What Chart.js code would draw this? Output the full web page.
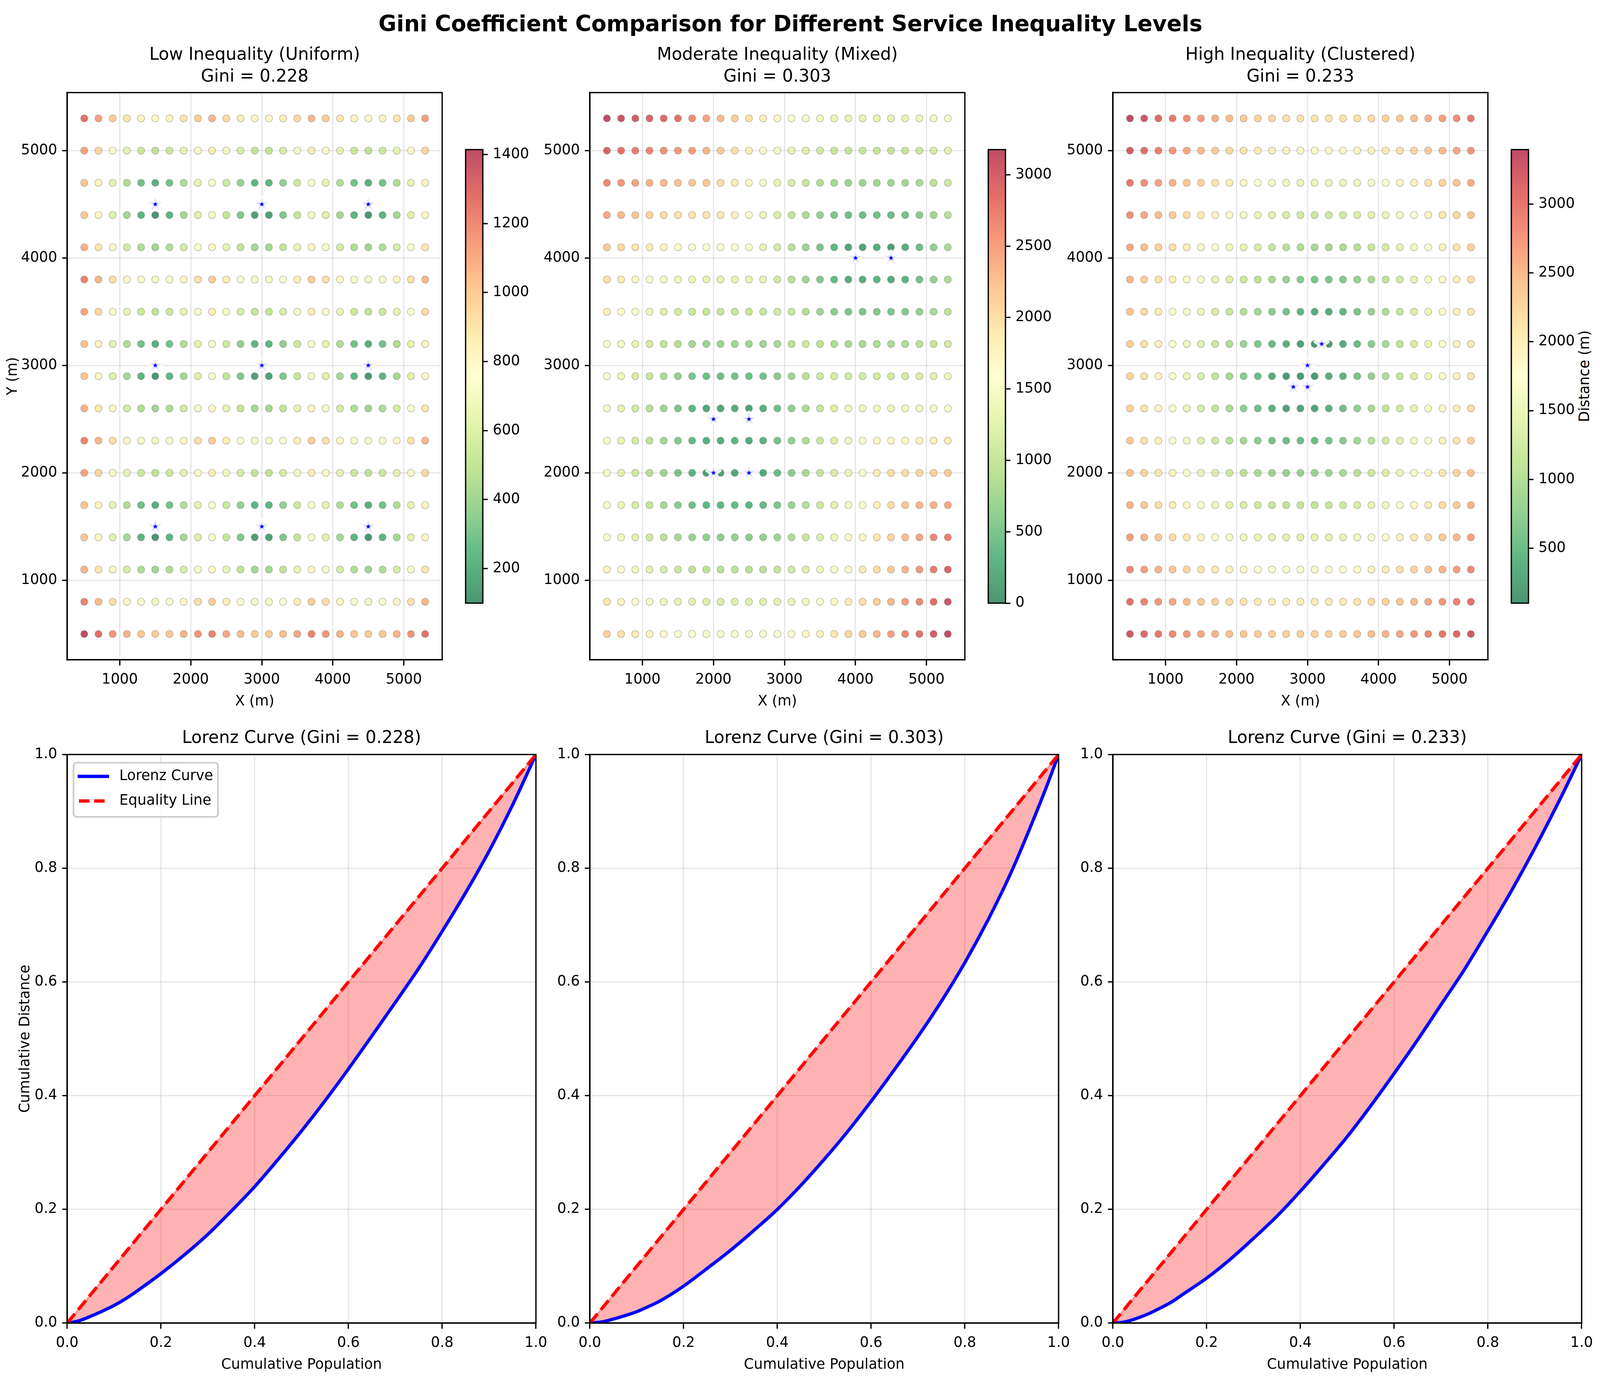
<!DOCTYPE html>
<html>
<head>
<meta charset="utf-8">
<script src="https://cdn.jsdelivr.net/npm/chart.js@4"></script>
<style>
html, body { margin: 0; padding: 0; background: #fff; overflow: hidden; }
#page { position: relative; width: 100vw; height: 100vh; overflow: hidden; background: #fff; font-family: "DejaVu Sans", sans-serif; color: #000; }
canvas { position: absolute; }
#suptitle { position: absolute; left: 0; top: 21px; text-align: center; font-weight: bold; line-height: 80px; white-space: nowrap; }
#cbarlabel { position: absolute; top: 963px; line-height: 50px; white-space: nowrap; transform: translate(-50%, -50%) rotate(-90deg); }
</style>
</head>
<body>
<div id="page">
<div id="suptitle">Gini Coefficient Comparison for Different Service Inequality Levels</div>
<div id="cbarlabel">Distance (m)</div>
</div>
<script>
// grid of population points
const xCols = [500,700,900,1100,1300,1500,1700,1900,2100,2300,2500,2700,2900,3100,3300,3500,3700,3900,4100,4300,4500,4700,4900,5100,5300];
const yRows = [500,800,1100,1400,1700,2000,2300,2600,2900,3200,3500,3800,4100,4400,4700,5000,5300];

// distance to nearest service, one line per row of yRows
const lowDistance = [
[1414,1281,1166,1077,1020,1000,1020,1077,1166,1221,1118,1044,1005,1005,1044,1118,1221,1166,1077,1020,1000,1020,1077,1166,1281],
[1221,1063,922,806,728,700,728,806,922,990,860,762,707,707,762,860,990,922,806,728,700,728,806,922,1063],
[1077,894,721,566,447,400,447,566,721,806,640,500,412,412,500,640,806,721,566,447,400,447,566,721,894],
[1005,806,608,412,224,100,224,412,608,707,510,316,141,141,316,510,707,608,412,224,100,224,412,608,806],
[1020,825,632,447,283,200,283,447,632,728,539,361,224,224,361,539,728,632,447,283,200,283,447,632,825],
[1118,943,781,640,539,500,539,640,781,860,707,583,510,510,583,707,860,781,640,539,500,539,640,781,943],
[1221,1063,922,806,728,700,728,806,922,990,860,762,707,707,762,860,990,922,806,728,700,728,806,922,1063],
[1077,894,721,566,447,400,447,566,721,806,640,500,412,412,500,640,806,721,566,447,400,447,566,721,894],
[1005,806,608,412,224,100,224,412,608,707,510,316,141,141,316,510,707,608,412,224,100,224,412,608,806],
[1020,825,632,447,283,200,283,447,632,728,539,361,224,224,361,539,728,632,447,283,200,283,447,632,825],
[1118,943,781,640,539,500,539,640,781,860,707,583,510,510,583,707,860,781,640,539,500,539,640,781,943],
[1221,1063,922,806,728,700,728,806,922,990,860,762,707,707,762,860,990,922,806,728,700,728,806,922,1063],
[1077,894,721,566,447,400,447,566,721,806,640,500,412,412,500,640,806,721,566,447,400,447,566,721,894],
[1005,806,608,412,224,100,224,412,608,707,510,316,141,141,316,510,707,608,412,224,100,224,412,608,806],
[1020,825,632,447,283,200,283,447,632,728,539,361,224,224,361,539,728,632,447,283,200,283,447,632,825],
[1118,943,781,640,539,500,539,640,781,860,707,583,510,510,583,707,860,781,640,539,500,539,640,781,943],
[1281,1131,1000,894,825,800,825,894,1000,1063,943,854,806,806,854,943,1063,1000,894,825,800,825,894,1000,1131]
];
const midDistance = [
[2121,1985,1860,1749,1655,1581,1530,1503,1503,1513,1500,1513,1552,1616,1700,1803,1921,2052,2193,2343,2500,2663,2830,3002,3176],
[1921,1769,1628,1500,1389,1300,1237,1204,1204,1217,1200,1217,1265,1342,1442,1562,1697,1844,2000,2163,2332,2506,2683,2864,3046],
[1749,1581,1421,1273,1140,1030,949,906,906,922,900,922,985,1082,1204,1345,1500,1664,1836,2012,2193,2377,2563,2751,2941],
[1616,1432,1253,1082,922,781,671,608,608,632,600,632,721,849,1000,1166,1342,1523,1709,1897,2088,2280,2474,2668,2720],
[1530,1334,1140,949,762,583,424,316,316,361,300,361,500,671,854,1044,1237,1432,1628,1825,2022,2220,2335,2377,2435],
[1500,1300,1100,900,700,500,300,100,100,200,0,200,400,600,800,1000,1200,1400,1600,1800,2000,2010,2040,2088,2154],
[1513,1315,1118,922,728,539,361,224,224,283,200,283,447,632,825,1020,1217,1414,1612,1712,1700,1712,1746,1803,1879],
[1503,1304,1105,906,707,510,316,141,141,224,100,224,412,608,806,1005,1204,1404,1404,1414,1400,1414,1456,1523,1612],
[1552,1360,1170,985,806,640,500,412,412,447,400,447,566,721,894,1077,1140,1105,1105,1118,1100,1118,1170,1253,1360],
[1655,1476,1304,1140,990,860,762,707,707,728,700,728,806,922,1063,943,854,806,806,825,800,825,894,1000,1131],
[1803,1640,1487,1345,1221,1118,1044,1005,1005,1020,1000,1020,1077,1030,860,707,583,510,510,539,500,539,640,781,943],
[1985,1838,1703,1581,1476,1393,1334,1304,1304,1315,1300,1315,1118,922,728,539,361,224,224,283,200,283,447,632,825],
[2193,2062,1942,1836,1746,1676,1628,1603,1603,1612,1503,1304,1105,906,707,510,316,141,141,224,100,224,412,608,806],
[2421,2302,2195,2102,2025,1965,1924,1903,1903,1746,1552,1360,1170,985,806,640,500,412,412,447,400,447,566,721,894],
[2663,2555,2460,2377,2309,2256,2220,2202,2025,1838,1655,1476,1304,1140,990,860,762,707,707,728,700,728,806,922,1063],
[2915,2818,2731,2657,2596,2550,2508,2326,2147,1972,1803,1640,1487,1345,1221,1118,1044,1005,1005,1020,1000,1020,1077,1166,1281],
[3176,3087,3008,2941,2886,2818,2642,2470,2302,2140,1985,1838,1703,1581,1476,1393,1334,1304,1304,1315,1300,1315,1360,1432,1526]
];
const highDistance = [
[3253,3114,2983,2860,2746,2642,2550,2470,2404,2354,2319,2302,2302,2302,2319,2354,2404,2470,2550,2642,2746,2860,2983,3114,3253],
[3048,2900,2759,2625,2500,2385,2283,2193,2119,2062,2022,2002,2002,2002,2022,2062,2119,2193,2283,2385,2500,2625,2759,2900,3048],
[2860,2702,2550,2404,2267,2140,2025,1924,1838,1772,1726,1703,1703,1703,1726,1772,1838,1924,2025,2140,2267,2404,2550,2702,2860],
[2693,2524,2360,2202,2052,1910,1780,1664,1565,1487,1432,1404,1404,1404,1432,1487,1565,1664,1780,1910,2052,2202,2360,2524,2693],
[2550,2371,2195,2025,1860,1703,1556,1421,1304,1208,1140,1105,1105,1105,1140,1208,1304,1421,1556,1703,1860,2025,2195,2371,2550],
[2435,2247,2062,1879,1700,1526,1360,1204,1063,943,854,806,806,806,854,943,1063,1204,1360,1526,1700,1879,2062,2247,2419],
[2354,2159,1965,1772,1581,1393,1208,1030,860,707,583,510,510,510,583,707,860,1030,1208,1393,1581,1749,1924,2102,2285],
[2309,2110,1910,1712,1513,1315,1118,922,728,539,361,224,224,224,361,539,728,922,1082,1253,1432,1616,1803,1992,2184],
[2302,2102,1903,1703,1503,1304,1105,906,707,510,316,141,141,141,316,424,583,762,949,1140,1334,1530,1726,1924,2121],
[2335,2138,1942,1746,1552,1360,1170,985,806,640,500,361,224,100,100,300,500,700,900,1100,1300,1500,1700,1900,2100],
[2404,2214,2025,1838,1655,1476,1304,1140,990,860,707,583,424,316,316,424,583,762,949,1140,1334,1530,1726,1924,2121],
[2508,2326,2147,1972,1803,1640,1487,1345,1204,1063,922,781,671,608,608,671,781,922,1082,1253,1432,1616,1803,1992,2184],
[2642,2470,2302,2140,1985,1838,1703,1556,1421,1273,1140,1030,949,906,906,949,1030,1140,1273,1421,1581,1749,1924,2102,2285],
[2802,2640,2484,2335,2193,2052,1910,1769,1628,1500,1389,1300,1237,1204,1204,1237,1300,1389,1500,1628,1769,1921,2081,2247,2419],
[2983,2832,2687,2550,2404,2267,2121,1985,1860,1749,1655,1581,1530,1503,1503,1530,1581,1655,1749,1860,1985,2121,2267,2421,2581],
[3183,3041,2900,2759,2617,2476,2343,2220,2110,2012,1931,1868,1825,1803,1803,1825,1868,1931,2012,2110,2220,2343,2476,2617,2766],
[3397,3253,3114,2970,2832,2702,2581,2470,2371,2285,2214,2159,2121,2102,2102,2121,2159,2214,2285,2371,2470,2581,2702,2832,2970]
];

// service locations
const lowServiceX = [1500,3000,4500,1500,3000,4500,1500,3000,4500];
const lowServiceY = [1500,1500,1500,3000,3000,3000,4500,4500,4500];
const midServiceX = [2000,2500,2000,2500,4000,4500];
const midServiceY = [2000,2000,2500,2500,4000,4000];
const highServiceX = [3000,3200,2800,3000];
const highServiceY = [3000,3200,2800,2800];

// lorenz curves, all read at the same population shares
const popShare = [0,0.025,0.05,0.075,0.1,0.125,0.15,0.2,0.25,0.3,0.35,0.4,0.45,0.5,0.55,0.6,0.65,0.7,0.75,0.8,0.85,0.9,0.95,0.975,1];
const equalityShare = [0,0.025,0.05,0.075,0.1,0.125,0.15,0.2,0.25,0.3,0.35,0.4,0.45,0.5,0.55,0.6,0.65,0.7,0.75,0.8,0.85,0.9,0.95,0.975,1];
const lowLorenz = [0,0.004,0.012,0.021,0.031,0.043,0.057,0.087,0.120,0.156,0.197,0.240,0.288,0.338,0.391,0.447,0.505,0.564,0.624,0.689,0.757,0.830,0.911,0.955,1];
const midLorenz = [0,0.002,0.007,0.013,0.020,0.029,0.039,0.065,0.096,0.128,0.163,0.200,0.242,0.288,0.337,0.390,0.446,0.504,0.566,0.634,0.710,0.795,0.893,0.945,1];
const highLorenz = [0,0.002,0.008,0.016,0.026,0.037,0.051,0.079,0.112,0.149,0.188,0.232,0.279,0.328,0.382,0.439,0.498,0.560,0.622,0.690,0.760,0.835,0.915,0.957,1];

// tick labels and text
const mapTicks = [1000,2000,3000,4000,5000];
const shareTicks = [0,0.2,0.4,0.6,0.8,1];
const lowBarTicks = [200,400,600,800,1000,1200,1400];
const midBarTicks = [0,500,1000,1500,2000,2500,3000];
const highBarTicks = [500,1000,1500,2000,2500,3000];
const mapTitles = [['Low Inequality (Uniform)','Gini = 0.228'],['Moderate Inequality (Mixed)','Gini = 0.303'],['High Inequality (Clustered)','Gini = 0.233']];
const lorenzTitles = ['Lorenz Curve (Gini = 0.228)','Lorenz Curve (Gini = 0.303)','Lorenz Curve (Gini = 0.233)'];
const legendLabels = ['Lorenz Curve','Equality Line'];

// RdYlGn reversed, low distance = green
const cmapStops = [[0,104,55],[26,152,80],[102,189,99],[166,217,106],[217,239,139],[255,255,191],[254,224,139],[253,174,97],[244,109,67],[215,48,39],[165,0,38]];

// the window can be narrower than the reference, so x positions follow its width
const sx = window.innerWidth / 5344, sy = window.innerHeight / 3543;
const fs = Math.sqrt(sx * sy);
const TICK_FONT = 41.67 * fs, TITLE_FONT = 50 * fs;
const LW = 3.33;
const TICK_LEN = 14.6;
const colLeft = [224.5 * sx, 1970.5 * sx, 3716.5 * sx];
const mapTop = 236.6 * sy, mapBottom = 1689 * sy, mapWidth = 1252.5 * sx;
const lorenzTop = 1931 * sy, lorenzBottom = 3386 * sy, lorenzWidth = 1565 * sx;
const barLeft = [1555.5 * sx, 3301 * sx, 5048 * sx], barTop = 383 * sy, barBottom = 1544 * sy, barWidth = 58 * sx;
const Y_GUTTER = colLeft[0], X_GUTTER = 129, RIGHT_GUTTER = 40;

const suptitle = document.getElementById('suptitle');
suptitle.style.width = (5280 * sx) + 'px';
suptitle.style.fontSize = (64.4 * fs) + 'px';
const cbarLabel = document.getElementById('cbarlabel');
cbarLabel.style.fontSize = TICK_FONT + 'px';
cbarLabel.style.left = (barLeft[2] + barWidth + 2 * TICK_LEN * fs + 3.2 * TICK_FONT) + 'px';

Chart.defaults.font.family = '"DejaVu Sans", sans-serif';
Chart.defaults.font.size = TICK_FONT;
Chart.defaults.color = '#000';
Chart.defaults.animation = false;
Chart.defaults.responsive = false;
Chart.defaults.devicePixelRatio = 1;
Chart.defaults.plugins.legend.display = false;
Chart.defaults.plugins.tooltip.enabled = false;

function cmapColor(t, alpha) {
    t = Math.min(1, Math.max(0, t)) * (cmapStops.length - 1);
    const i = Math.min(cmapStops.length - 2, Math.floor(t));
    const f = t - i;
    const c = [0, 1, 2].map(k => Math.round(cmapStops[i][k] + (cmapStops[i + 1][k] - cmapStops[i][k]) * f));
    return 'rgba(' + c[0] + ',' + c[1] + ',' + c[2] + ',' + alpha + ')';
}

function addCanvas(left, top, w, h) {
    const c = document.createElement('canvas');
    c.width = Math.round(w);
    c.height = Math.round(h);
    c.style.left = left + 'px';
    c.style.top = top + 'px';
    c.style.width = Math.round(w) + 'px';
    c.style.height = Math.round(h) + 'px';
    document.getElementById('page').appendChild(c);
    return c;
}

// blue star with a thick see-through white edge
function makeStar() {
    const c = document.createElement('canvas');
    c.width = 80;
    c.height = 80;
    const g = c.getContext('2d');
    const R = 20.8 * fs, r = R * 0.382;
    g.beginPath();
    for (let i = 0; i < 10; i++) {
        const a = -Math.PI / 2 + i * Math.PI / 5;
        const q = i % 2 ? r : R;
        g.lineTo(40 + q * Math.cos(a), 40 + q * Math.sin(a));
    }
    g.closePath();
    g.fillStyle = '#0000ff';
    g.fill();
    g.lineJoin = 'round';
    g.lineWidth = 8.33 * fs;
    g.strokeStyle = 'rgba(255,255,255,0.9)';
    g.stroke();
    return c;
}
const starImage = makeStar();

const framePlugin = {
    id: 'frame',
    afterDatasetsDraw(chart) {
        const a = chart.chartArea, g = chart.ctx;
        g.save();
        g.strokeStyle = '#000';
        g.lineWidth = LW;
        g.strokeRect(a.left, a.top, a.right - a.left, a.bottom - a.top);
        g.restore();
    }
};

const legendPlugin = {
    id: 'lorenzLegend',
    afterDatasetsDraw(chart) {
        const a = chart.chartArea, g = chart.ctx;
        const x = a.left + 21 * sx, y = a.top + 21;
        g.save();
        g.beginPath();
        g.roundRect(x, y, 422.5 * fs, 138.6, 8);
        g.fillStyle = 'rgba(255,255,255,0.8)';
        g.fill();
        g.strokeStyle = '#cccccc';
        g.lineWidth = 4.17;
        g.stroke();
        g.lineWidth = 8.33;
        g.strokeStyle = '#0000ff';
        g.beginPath();
        g.moveTo(x + 12 * fs, y + 35);
        g.lineTo(x + 104 * fs, y + 35);
        g.stroke();
        g.strokeStyle = '#ff0000';
        g.setLineDash([30.8 * fs, 13.3 * fs]);
        g.beginPath();
        g.moveTo(x + 16 * fs, y + 98);
        g.lineTo(x + 92 * fs, y + 98);
        g.stroke();
        g.setLineDash([]);
        g.fillStyle = '#000';
        g.font = TICK_FONT + 'px "DejaVu Sans"';
        g.textBaseline = 'middle';
        g.fillText(legendLabels[0], x + 134 * fs, y + 35);
        g.fillText(legendLabels[1], x + 134 * fs, y + 98);
        g.restore();
    }
};

function axisBase(min, max, ticks, label, labelPad, fmt, isX) {
    const tickLen = isX ? TICK_LEN : TICK_LEN * fs;
    return {
        type: 'linear',
        min: min,
        max: max,
        afterBuildTicks: s => { s.ticks = ticks.map(v => ({ value: v })); },
        afterFit: s => {
            if (isX) s.height = X_GUTTER; else s.width = Y_GUTTER;
            s.paddingLeft = 0; s.paddingRight = 0; s.paddingTop = 0; s.paddingBottom = 0;
        },
        grid: { color: 'rgba(176,176,176,0.3)', lineWidth: LW, tickColor: '#000', tickWidth: LW, tickLength: tickLen },
        border: { display: true, color: '#000', width: LW },
        ticks: { autoSkip: false, maxRotation: 0, padding: tickLen, callback: fmt, color: '#000', font: { size: TICK_FONT } },
        title: label ? { display: true, text: label, color: '#000', font: { size: TICK_FONT, lineHeight: 1.2 }, padding: isX ? { top: 0, bottom: 0 } : { top: labelPad, bottom: 0 } } : { display: false }
    };
}

function drawMap(col, rows, serviceX, serviceY, vmin, vmax) {
    const titleLine = 55.5, titlePad = 12, titleH = 2 * titleLine + titlePad;
    const canvas = addCanvas(colLeft[col] - Y_GUTTER, mapTop - titleH, Y_GUTTER + mapWidth + RIGHT_GUTTER, titleH + mapBottom - mapTop + X_GUTTER);
    const pts = [];
    yRows.forEach((y, r) => xCols.forEach((x, c) => pts.push({ x: x, y: y, v: rows[r][c] })));
    new Chart(canvas, {
        type: 'scatter',
        data: {
            datasets: [
                { data: serviceX.map((x, i) => ({ x: x, y: serviceY[i] })), pointStyle: starImage, pointRadius: 20, clip: 0 },
                {
                    data: pts,
                    pointRadius: 10.4 * fs,
                    pointBorderWidth: 1.25,
                    pointBorderColor: 'rgba(128,128,128,0.7)',
                    pointBackgroundColor: ctx => cmapColor((ctx.raw.v - vmin) / (vmax - vmin), 0.7)
                }
            ]
        },
        options: {
            layout: { padding: { right: RIGHT_GUTTER } },
            plugins: {
                title: { display: true, fullSize: false, text: mapTitles[col], color: '#000', font: { size: TITLE_FONT, weight: 'normal', lineHeight: titleLine / TITLE_FONT }, padding: { top: 0, bottom: titlePad } }
            },
            scales: {
                x: axisBase(260, 5540, mapTicks, 'X (m)', 0, v => String(v), true),
                y: axisBase(260, 5540, mapTicks, col === 0 ? 'Y (m)' : null, 12, v => String(v), false)
            }
        },
        plugins: [framePlugin]
    });
}

function drawColorbar(col, vmin, vmax, ticks) {
    const pad = 30, tickSpace = 180, tickLen = TICK_LEN * fs;
    const canvas = addCanvas(barLeft[col] - 4, barTop - pad, 4 + barWidth + tickSpace, barBottom - barTop + 2 * pad);
    new Chart(canvas, {
        type: 'bar',
        data: {
            labels: [''],
            datasets: [{
                data: [[vmin, vmax]],
                barPercentage: 1,
                categoryPercentage: 1,
                backgroundColor: ctx => {
                    const a = ctx.chart.chartArea;
                    if (!a) return '#ccc';
                    const grad = ctx.chart.ctx.createLinearGradient(0, a.bottom, 0, a.top);
                    for (let i = 0; i <= 20; i++) grad.addColorStop(i / 20, cmapColor(i / 20, 0.7));
                    return grad;
                }
            }]
        },
        options: {
            layout: { padding: { left: 4, top: pad, bottom: pad } },
            scales: {
                x: { display: false },
                y: {
                    type: 'linear',
                    position: 'right',
                    min: vmin,
                    max: vmax,
                    afterBuildTicks: s => { s.ticks = ticks.map(v => ({ value: v })); },
                    afterFit: s => { s.width = tickSpace; s.paddingTop = 0; s.paddingBottom = 0; },
                    grid: { drawOnChartArea: false, tickColor: '#000', tickWidth: LW, tickLength: tickLen },
                    border: { display: false },
                    ticks: { autoSkip: false, maxRotation: 0, padding: tickLen, color: '#000', callback: v => String(v), font: { size: TICK_FONT } }
                }
            }
        },
        plugins: [framePlugin]
    });
}

function drawLorenz(col, curve) {
    const titleLine = 55.5, titlePad = 13, titleH = titleLine + titlePad;
    const canvas = addCanvas(colLeft[col] - Y_GUTTER, lorenzTop - titleH, Y_GUTTER + lorenzWidth + RIGHT_GUTTER, titleH + lorenzBottom - lorenzTop + X_GUTTER);
    const curvePts = popShare.map((x, i) => ({ x: x, y: curve[i] }));
    const equalPts = popShare.map((x, i) => ({ x: x, y: equalityShare[i] }));
    new Chart(canvas, {
        type: 'line',
        data: {
            datasets: [
                { data: equalPts, borderColor: '#ff0000', borderWidth: 8.33, borderDash: [30.8, 13.3], borderCapStyle: 'butt', pointRadius: 0, fill: false, clip: 0 },
                { data: curvePts, borderColor: '#0000ff', borderWidth: 8.33, pointRadius: 0, fill: false, clip: 0, cubicInterpolationMode: 'monotone' },
                { data: equalPts, borderColor: 'rgba(255,0,0,0.3)', borderWidth: 4.17, pointRadius: 0, backgroundColor: 'rgba(255,0,0,0.3)', fill: 1, clip: 0 }
            ]
        },
        options: {
            layout: { padding: { right: RIGHT_GUTTER } },
            plugins: {
                title: { display: true, fullSize: false, text: lorenzTitles[col], color: '#000', font: { size: TITLE_FONT, weight: 'normal', lineHeight: titleLine / TITLE_FONT }, padding: { top: 0, bottom: titlePad } }
            },
            scales: {
                x: axisBase(0, 1, shareTicks, 'Cumulative Population', 0, v => v.toFixed(1), true),
                y: axisBase(0, 1, shareTicks, col === 0 ? 'Cumulative Distance' : null, 44, v => v.toFixed(1), false)
            }
        },
        plugins: col === 0 ? [legendPlugin, framePlugin] : [framePlugin]
    });
}

drawMap(0, lowDistance, lowServiceX, lowServiceY, 100, 1414);
drawMap(1, midDistance, midServiceX, midServiceY, 0, 3176);
drawMap(2, highDistance, highServiceX, highServiceY, 100, 3397);
drawColorbar(0, 100, 1414, lowBarTicks);
drawColorbar(1, 0, 3176, midBarTicks);
drawColorbar(2, 100, 3397, highBarTicks);
drawLorenz(0, lowLorenz);
drawLorenz(1, midLorenz);
drawLorenz(2, highLorenz);
</script>
</body>
</html>
